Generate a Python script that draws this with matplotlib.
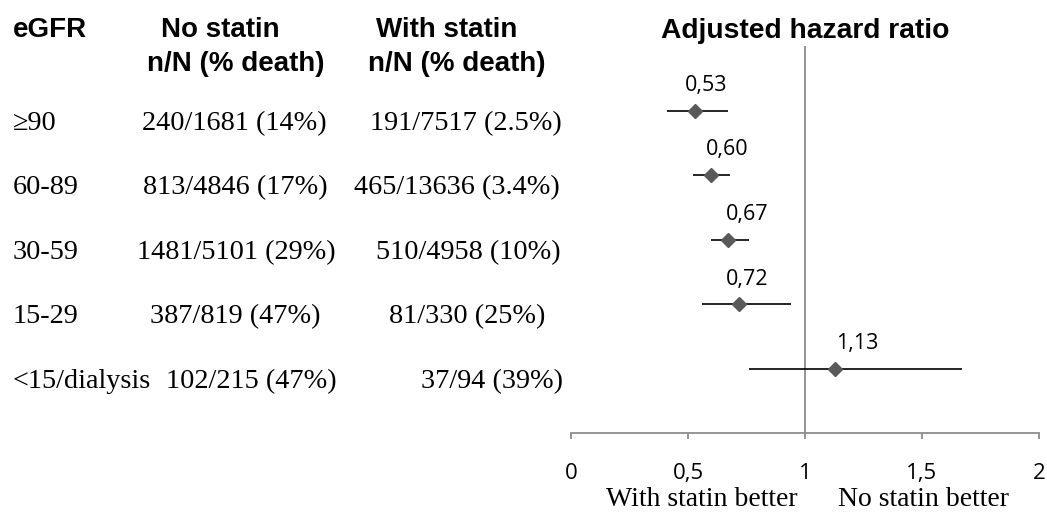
import matplotlib
matplotlib.use('Agg')
import matplotlib.pyplot as plt
import matplotlib.transforms as mtransforms
import numpy as np

# donnees
egfr = ['\u226590', '60-89', '30-59', '15-29', '<15/dialysis']
no_statin = ['240/1681 (14%)', '813/4846 (17%)', '1481/5101 (29%)', '387/819 (47%)', '102/215 (47%)']
with_statin = ['191/7517 (2.5%)', '465/13636 (3.4%)', '510/4958 (10%)', '81/330 (25%)', '37/94 (39%)']
hr = np.array([0.53, 0.60, 0.67, 0.72, 1.13])
ic_bas = np.array([0.41, 0.52, 0.60, 0.56, 0.76])
ic_haut = np.array([0.67, 0.68, 0.76, 0.94, 1.67])
hr_labels = ['0,53', '0,60', '0,67', '0,72', '1,13']
xticks = [0, 0.5, 1, 1.5, 2]
xtick_labels = ['0', '0,5', '1', '1,5', '2']

W, H = 1047, 525
serif = ['Liberation Serif', 'DejaVu Serif']
bold_sans = ['Liberation Sans', 'DejaVu Sans']
calib = ['Open Sans', 'DejaVu Sans']

fig = plt.figure(figsize=(W / 100, H / 100), dpi=100)
ax = fig.add_axes([571 / W, 1 - 433 / H, (1039 - 571) / W, (433 - 46) / H])

ypos = np.arange(len(hr), 0, -1)   # ligne du haut = >=90

ax.errorbar(hr, ypos, xerr=[hr - ic_bas, ic_haut - hr], fmt='none',
            ecolor='black', elinewidth=1.2, capsize=0, zorder=2)
ax.plot(hr, ypos, 'D', color='#595959', markersize=7.5, zorder=3)
ax.axvline(1, color='#8c8c8c', lw=1.3, zorder=1)

# etiquettes des valeurs (decalages comme sur l'original)
dx = [11, 16, 19, 8, 22]
for x, y, lab, d in zip(hr, ypos, hr_labels, dx):
    ax.annotate(lab, (x, y), xytext=(d * 0.72, 18), textcoords='offset points',
                ha='center', va='center', fontsize=15.5, family=calib)

ax.set_xlim(0, 2)
ax.set_ylim(0, 6)
ax.set_xticks(xticks)
ax.set_xticklabels(xtick_labels, family=calib, fontsize=16)
ax.set_yticks([])
for s in ['left', 'top', 'right']:
    ax.spines[s].set_visible(False)
ax.spines['bottom'].set_color('#8c8c8c')
ax.spines['bottom'].set_linewidth(1.3)
ax.tick_params(axis='x', direction='out', length=4.5, width=1.3, color='#8c8c8c', pad=17)

ax.set_title('Adjusted hazard ratio', fontsize=20.3, fontweight='bold', family=bold_sans, pad=6)

# tableau a gauche
trans = mtransforms.blended_transform_factory(fig.transFigure, ax.transData)
col1_x = [234, 235, 236, 235, 251]
col2_x = [466, 457, 468, 467, 492]
for i, y in enumerate(ypos):
    ty = y - 0.2
    ax.text(13 / W, ty, egfr[i], transform=trans, ha='left', va='center',
            fontsize=20.3, family=serif, clip_on=False)
    ax.text(col1_x[i] / W, ty, no_statin[i], transform=trans, ha='center', va='center',
            fontsize=20.3, family=serif, clip_on=False)
    ax.text(col2_x[i] / W, ty, with_statin[i], transform=trans, ha='center', va='center',
            fontsize=20.3, family=serif, clip_on=False)

# entetes
fig.text(13 / W, 1 - 30 / H, 'eGFR', ha='left', va='center', fontsize=20, fontweight='bold', family=bold_sans)
fig.text(220 / W, 1 - 30 / H, 'No statin', ha='center', va='center', fontsize=20, fontweight='bold', family=bold_sans)
fig.text(236 / W, 1 - 64 / H, 'n/N (% death)', ha='center', va='center', fontsize=20, fontweight='bold', family=bold_sans)
fig.text(447 / W, 1 - 30 / H, 'With statin', ha='center', va='center', fontsize=20, fontweight='bold', family=bold_sans)
fig.text(457 / W, 1 - 64 / H, 'n/N (% death)', ha='center', va='center', fontsize=20, fontweight='bold', family=bold_sans)

# legende sous l'axe
fig.text(702 / W, 1 - 500 / H, 'With statin better', ha='center', va='center', fontsize=20, family=serif)
fig.text(923 / W, 1 - 500 / H, 'No statin better', ha='center', va='center', fontsize=20, family=serif)

fig.savefig('out.png', dpi=100)
